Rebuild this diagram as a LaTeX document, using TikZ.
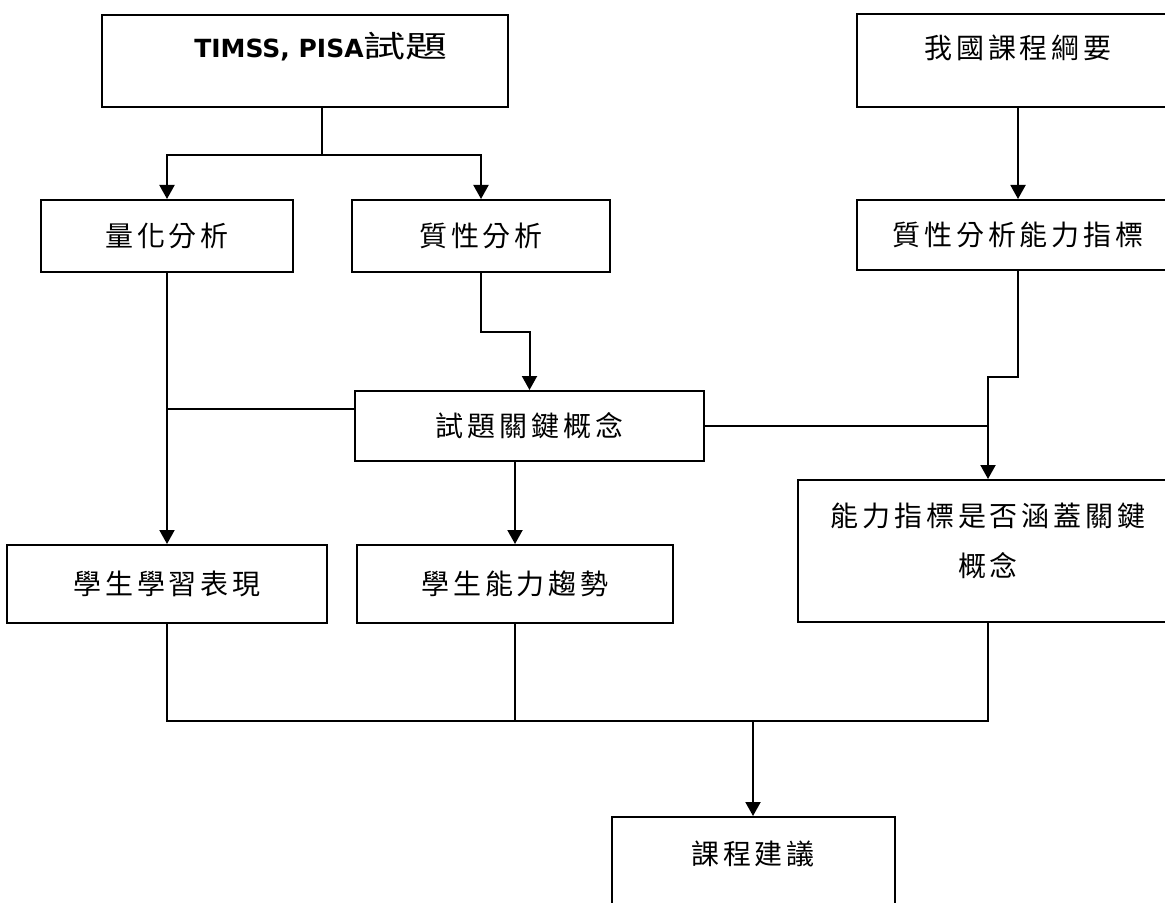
\documentclass[tikz,border=0pt]{standalone}
\usepackage{fontspec}
\usetikzlibrary{arrows.meta}
\newfontfamily\cjk{Noto Sans CJK TC}[LetterSpace=14]
\newfontfamily\cjkwide{Noto Sans CJK TC}[FakeStretch=1.4]
\newfontfamily\verdana{DejaVu Sans}
\tikzset{
  box/.style={draw, line width=1pt, inner sep=0pt, align=center,
    font=\cjk\fontsize{14pt}{25pt}\selectfont},
  wire/.style={line width=1pt},
  arr/.style={wire, -{Triangle[width=7.5pt,length=7pt]}}
}
\begin{document}
\begin{tikzpicture}[x=0.5pt, y=-0.5pt]
    % page frame
    \useasboundingbox (0,0) rectangle (1165,903);
    \clip (0,0) rectangle (1165,903);
    % define the source boxes
    \node[box, minimum width=203pt, minimum height=46pt, text height=15pt, text depth=18pt]
      (timss) at (305,61) {\hspace*{16pt}{\verdana\bfseries\fontsize{12.5pt}{16pt}\selectfont TIMSS, PISA}{\cjkwide\fontsize{15pt}{20pt}\selectfont 試題}};
    \node[box, minimum width=161pt, minimum height=46.5pt, text depth=13.5pt]
      (gangyao) at (1018,60.5) {我國課程綱要};
    % define the analysis boxes
    \node[box, minimum width=126pt, minimum height=36pt] (liang) at (167,236) {量化分析};
    \node[box, minimum width=129pt, minimum height=36pt] (zhi) at (481,236) {質性分析};
    \node[box, minimum width=161pt, minimum height=35pt] (zhineng) at (1018,235) {質性分析能力指標};
    \node[box, minimum width=174.5pt, minimum height=35pt] (key) at (529.5,426) {試題關鍵概念};
    % define the result boxes
    \node[box, minimum width=160pt, minimum height=39pt] (perf) at (167,584) {學生學習表現};
    \node[box, minimum width=158pt, minimum height=39pt] (trend) at (515,584) {學生能力趨勢};
    \node[box, minimum width=190pt, minimum height=71pt, text depth=11pt]
      (cover) at (988,551) {能力指標是否涵蓋關鍵\\概念};
    \node[box, anchor=north, minimum width=141.5pt, minimum height=72pt, text depth=36pt]
      (advice) at (753,816) {課程建議};

    % split below the test items
    \coordinate (split) at (322,155);
    \draw[wire] (split |- timss.south) -- (split);
    \draw[arr] (split) -| (liang.north);
    \draw[arr] (split) -| (zhi.north);
    \draw[arr] (gangyao.south) -- (zhineng.north);
    % into the key concepts and the coverage check
    \draw[arr] (zhi.south) -- ++(0,59) -| (key.north);
    \draw[arr] (zhineng.south) -- ++(0,106) -| (cover.north);
    \draw[arr] (liang.south) -- (perf.north);
    \draw[wire] ([yshift=8.5pt]key.west) -- ([yshift=8.5pt]key.west -| liang.south);
    \draw[wire] (key.east) -- (key.east -| cover.north);
    \draw[arr] (trend.north |- key.south) -- (trend.north);
    % join the results
    \coordinate (join) at (753,721);
    \draw[wire] (perf.south) -- (perf.south |- join) -- (cover.south |- join) -- (cover.south);
    \draw[wire] (trend.south) -- (trend.south |- join);
    \draw[arr] (join) -- (advice.north);
\end{tikzpicture}
\end{document}
